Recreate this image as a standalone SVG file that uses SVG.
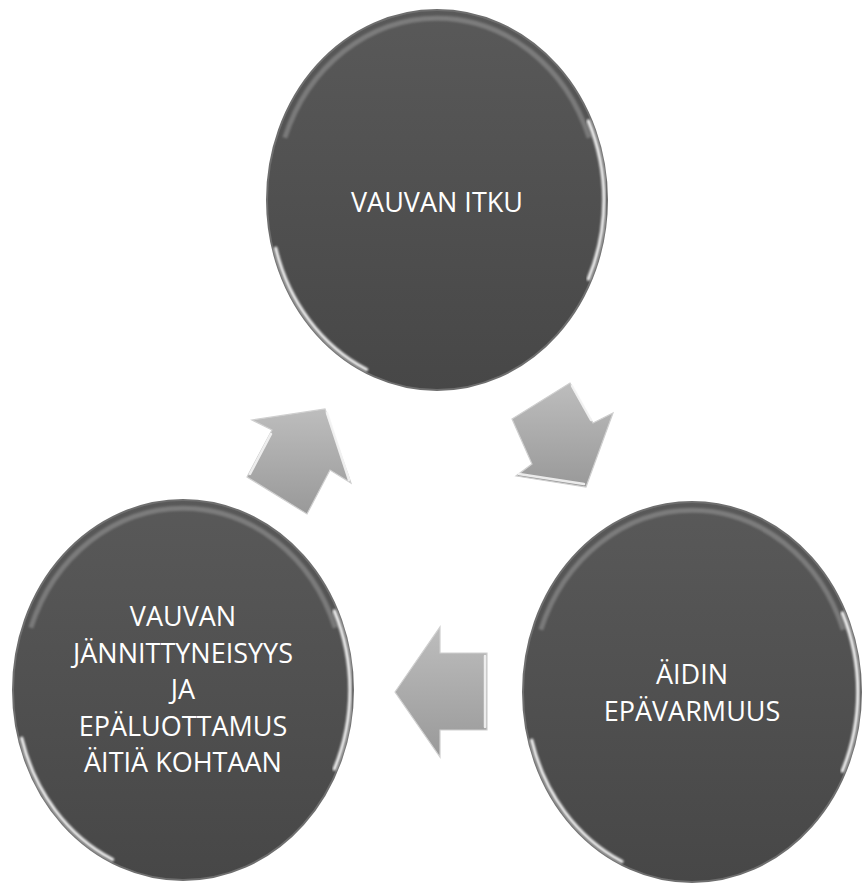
<svg xmlns="http://www.w3.org/2000/svg" width="865" height="886" viewBox="0 0 865 886">
  <defs>
    <linearGradient id="discFill" x1="0" y1="0" x2="0" y2="1">
      <stop offset="0" stop-color="#595959"/>
      <stop offset="1" stop-color="#474747"/>
    </linearGradient>
    <linearGradient id="arrowFill" x1="0" y1="0" x2="0" y2="1">
      <stop offset="0" stop-color="#bdbdbd"/>
      <stop offset="1" stop-color="#999999"/>
    </linearGradient>
    <filter id="soft" x="-10%" y="-10%" width="120%" height="120%">
      <feGaussianBlur stdDeviation="1.2"/>
    </filter>
  </defs>
  <style>
    .disc { fill: url(#discFill); stroke: #6e6e6e; stroke-width: 2; }
    .band { fill: none; stroke: #a0a0a0; stroke-width: 5; opacity: 0.5; filter: url(#soft); }
    .spec { fill: none; stroke: #ffffff; stroke-width: 3.5; opacity: 0.9; filter: url(#soft); stroke-linecap: round; }
    .label { fill: #ffffff; font-family: "Open Sans", "Liberation Sans", sans-serif; font-size: 27px; text-anchor: middle; }
    .arrow { fill: url(#arrowFill); stroke: #cfcfcf; stroke-width: 1.2; stroke-linejoin: miter; }
    .bevel { fill: none; stroke: #f4f4f4; stroke-width: 2.5; opacity: 0.9; stroke-linecap: round; }
  </style>

  <rect width="865" height="886" fill="#ffffff"/>

  <g id="connectors">
    <polygon id="arrow-top-to-right" class="arrow" points="512,419 570,383 593,423 613,413 586,487 516,476 532,464"/>
    <path class="bevel" d="M 519 474 L 584 484"/>
    <path class="bevel" d="M 572 386 L 591 420"/>
    <polygon id="arrow-right-to-left" class="arrow" points="395,692 440,627 440,653 487,653 487,730 440,730 440,757"/>
    <path class="bevel" d="M 485 656 L 485 727"/>
    <polygon id="arrow-left-to-top" class="arrow" points="247,477 272,430 252,420 325,409 351,483 330,470 307,514"/>
    <path class="bevel" d="M 250 474 L 271 434"/>
    <path class="bevel" d="M 327 413 L 349 480"/>
  </g>

  <g id="node-vauvan-itku" transform="translate(437,200)">
    <ellipse class="disc" cx="0" cy="0" rx="170" ry="190"/>
    <path class="band" d="M -152.2 -62.2 A 162 182 0 0 1 152.2 -62.2"/>
    <path class="spec" d="M -70.6 169.5 A 167 187 0 0 1 -161.3 48.4"/>
    <path class="spec" d="M 151.4 -79 A 167 187 0 0 1 151.4 79"/>
    <text class="label" x="0" y="12">VAUVAN ITKU</text>
  </g>

  <g id="node-aidin-epavarmuus" transform="translate(692,692)">
    <ellipse class="disc" cx="0" cy="0" rx="169" ry="190"/>
    <path class="band" d="M -151.2 -62.2 A 161 182 0 0 1 151.2 -62.2"/>
    <path class="spec" d="M -70.2 169.5 A 166 187 0 0 1 -160.3 48.4"/>
    <path class="spec" d="M 150.4 -79 A 166 187 0 0 1 150.4 79"/>
    <text class="label" x="0" y="-8">ÄIDIN</text>
    <text class="label" x="0" y="29">EPÄVARMUUS</text>
  </g>

  <g id="node-vauvan-jannittyneisyys" transform="translate(183,690)">
    <ellipse class="disc" cx="0" cy="0" rx="170" ry="190"/>
    <path class="band" d="M -152.2 -62.2 A 162 182 0 0 1 152.2 -62.2"/>
    <path class="spec" d="M -70.6 169.5 A 167 187 0 0 1 -161.3 48.4"/>
    <path class="spec" d="M 151.4 -79 A 167 187 0 0 1 151.4 79"/>
    <text class="label" x="0" y="-64">VAUVAN</text>
    <text class="label" x="0" y="-27.5">JÄNNITTYNEISYYS</text>
    <text class="label" x="0" y="9">JA</text>
    <text class="label" x="0" y="45.5">EPÄLUOTTAMUS</text>
    <text class="label" x="0" y="82">ÄITIÄ KOHTAAN</text>
  </g>
</svg>
